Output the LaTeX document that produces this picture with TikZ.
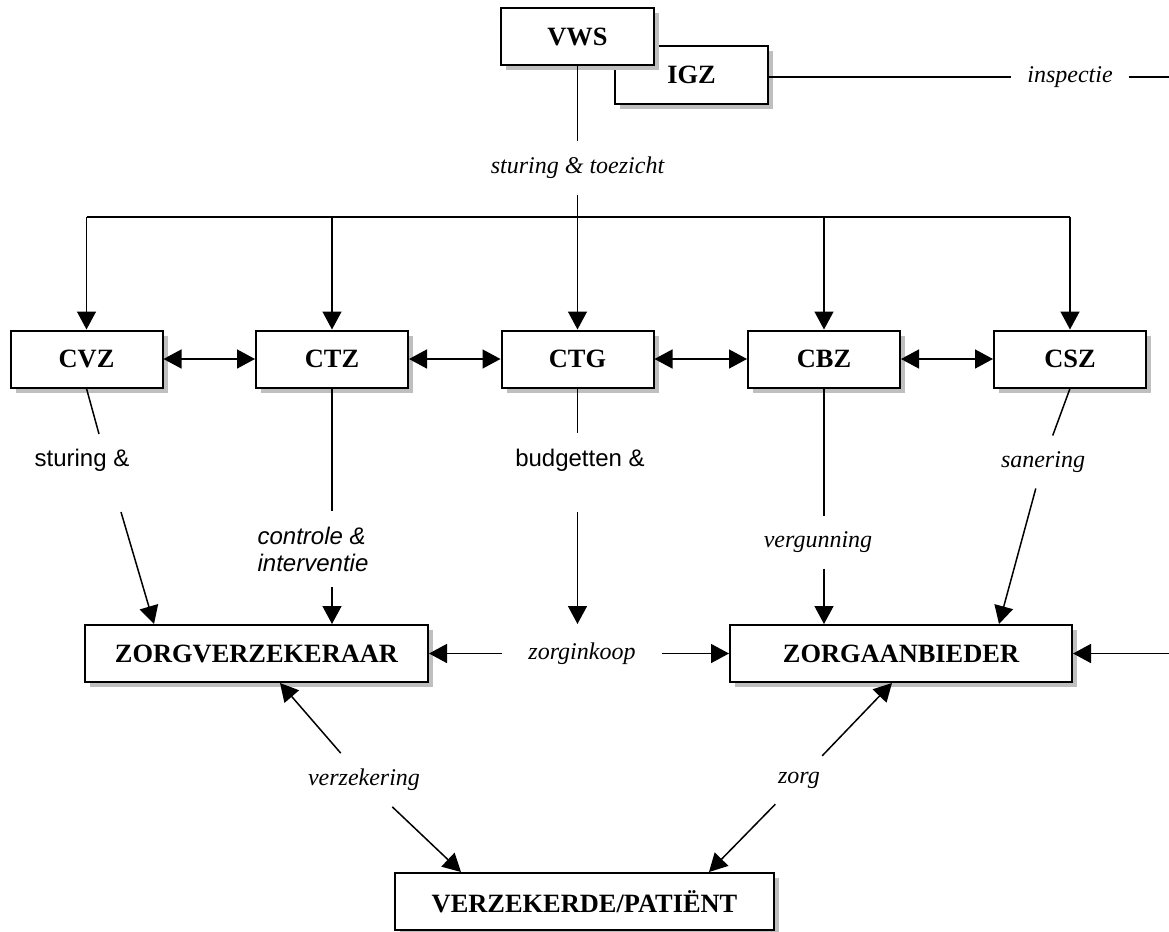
\documentclass[tikz,border=0pt]{standalone}
\usepackage{fontspec}
\setmainfont{Liberation Serif}
\setsansfont{Liberation Sans}
\usetikzlibrary{arrows.meta, shadows}

\begin{document}
\begin{tikzpicture}[
  x=0.5pt, y=-0.5pt,
  obox/.style={draw, line width=1pt, fill=white, minimum height=28.5pt, inner sep=0pt,
    font=\bfseries\fontsize{13.2}{15}\selectfont,
    drop shadow={shadow xshift=2.5pt, shadow yshift=-2.5pt, fill=black!25, opacity=1}},
  tlbl/.style={font=\itshape\fontsize{12}{13.5}\selectfont, inner sep=3pt, outer sep=5pt},
  slbl/.style={font=\sffamily\fontsize{12}{13.5}\selectfont, inner sep=3pt, outer sep=5pt},
  conn/.style={line width=0.75pt},
  arr/.style={conn, -{Triangle[length=9pt, width=9.5pt]}},
  darr/.style={conn, {Triangle[length=9pt, width=9.5pt]}-{Triangle[length=9pt, width=9.5pt]}}
]
  \useasboundingbox (0,0) rectangle (1169,932);

  % ministerie en inspectie
  \node[obox, minimum width=76.5pt, minimum height=29pt] (igz) at (691.5,75) {IGZ};
  \node[obox, minimum width=76.5pt] (vws) at (577.5,36.5) {VWS};

  % colleges
  \node[obox, minimum width=76pt] (cvz) at (86.5,359) {CVZ};
  \node[obox, minimum width=76pt] (ctz) at (332,359) {CTZ};
  \node[obox, minimum width=76pt] (ctg) at (577.5,359) {CTG};
  \node[obox, minimum width=76pt] (cbz) at (824,359) {CBZ};
  \node[obox, minimum width=76pt] (csz) at (1070,359) {CSZ};

  % partijen
  \node[obox, minimum width=171.5pt] (zv) at (256.5,653.5) {ZORGVERZEKERAAR};
  \node[obox, minimum width=171pt] (za) at (901,653.5) {ZORGAANBIEDER};
  \node[obox, minimum width=189.5pt] (vp) at (584.5,901.5) {VERZEKERDE/PATIËNT};

  % labels
  \node[tlbl] (insp) at (1070,77) {inspectie};
  \node[tlbl] (toez) at (577.5,168) {sturing \& toezicht};
  \node[slbl] (stur) at (82,460) {sturing \&};
  \node[slbl, font=\sffamily\itshape\fontsize{12}{13.5}\selectfont, align=left] (ctrl) at (313,549) {controle \&\\interventie};
  \node[slbl] (budg) at (580,460) {budgetten \&};
  \node[tlbl] (verg) at (818,542) {vergunning};
  \node[tlbl] (san) at (1043,462) {sanering};
  \node[tlbl, inner xsep=8pt] (inkoop) at (582,653.5) {zorginkoop};
  \node[tlbl] (verz) at (364,780) {verzekering};
  \node[tlbl] (zorg) at (799,780) {zorg};

  \coordinate (bus) at (577.5,217);
  \coordinate (insp-end) at (1169,77);
  \coordinate (za-in) at (1169,653.5);
  \coordinate (cvz-a) at (99,434);
  \coordinate (cvz-b) at (121,512);
  \coordinate (budg-b) at (577.5,512);

  % sturing vanuit VWS
  \draw[conn] (igz.east |- insp) -- (insp);
  \draw[conn] (insp) -- (insp-end);
  \draw[conn] (vws) -- (toez);
  \draw[arr] (toez) -- (ctg);
  \draw[conn] (cvz |- bus) -- (csz |- bus);
  \foreach \n in {cvz, ctz, cbz, csz}
    \draw[arr] (\n |- bus) -- (\n);

  % onderlinge afstemming
  \draw[darr] (cvz) -- (ctz);
  \draw[darr] (ctz) -- (ctg);
  \draw[darr] (ctg) -- (cbz);
  \draw[darr] (cbz) -- (csz);

  % colleges naar partijen
  \draw[conn] (cvz.south) -- (cvz-a);
  \draw[arr] (cvz-b) -- ([xshift=35pt]zv.north west);
  \draw[conn] (ctz) -- (ctz |- ctrl.north);
  \draw[arr] (ctz |- ctrl.south) -- (ctz |- zv.north);
  \draw[conn] (ctg) -- (ctg |- budg.north);
  \draw[arr] (budg-b) -- (ctg |- zv.north);
  \draw[conn] (cbz) -- (cbz |- verg.north);
  \draw[arr] (cbz |- verg.south) -- (cbz |- za.north);
  \draw[conn] (csz.south) -- (san);
  \draw[arr] (san) -- ([xshift=-37pt]za.north east);

  % markt
  \draw[arr] (inkoop) -- (zv);
  \draw[arr] (inkoop) -- (za);
  \draw[arr] (za-in) -- (za);
  \draw[arr] (verz) -- ([xshift=98pt]zv.south west);
  \draw[arr] (verz) -- ([xshift=33.5pt]vp.north west);
  \draw[arr] (zorg) -- ([xshift=81.5pt]za.south west);
  \draw[arr] (zorg) -- ([xshift=-33pt]vp.north east);
\end{tikzpicture}
\end{document}
